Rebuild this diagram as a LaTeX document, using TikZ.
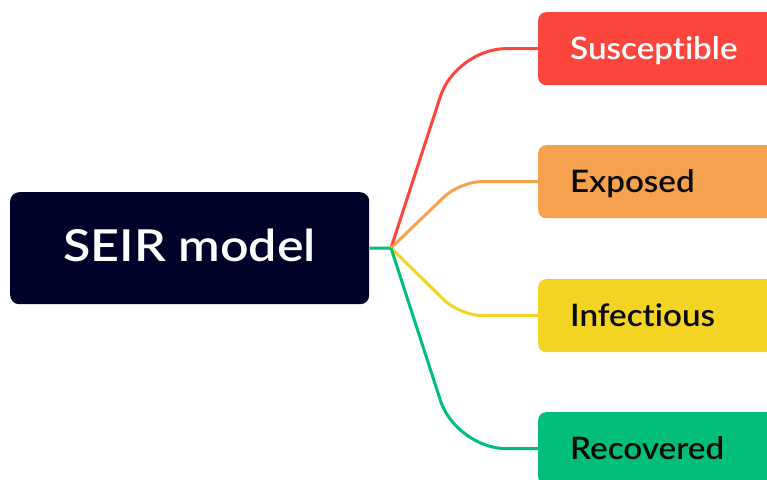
\documentclass[tikz,border=0pt]{standalone}
\usepackage{fontspec}
\setmainfont{Lato}[UprightFont=* Semibold, RawFeature=-liga, FakeStretch=1.07]
\newfontfamily\rootfont{Lato}[UprightFont=* Semibold, RawFeature=-liga, FakeStretch=1.14]
\definecolor{navy}{HTML}{000229}
\definecolor{cred}{HTML}{FB453D}
\definecolor{corange}{HTML}{F6A14E}
\definecolor{cyellow}{HTML}{F3D422}
\definecolor{cgreen}{HTML}{01BF7A}
\definecolor{ink}{HTML}{0A0A0A}
\tikzset{
  conn/.style={line width=3pt, line join=round},
  leaf/.style={rounded corners=8pt, anchor=north west, minimum height=73pt,
    text width=196pt, inner xsep=32pt, align=left, inner ysep=0pt,
    text height=21pt, text depth=0pt,
    font=\fontsize{31pt}{36pt}\selectfont},
}
\begin{document}
\begin{tikzpicture}[x=1pt,y=-1pt]
\useasboundingbox (0,0) rectangle (767,479);
\clip (0,0) rectangle (767,479);
\node[fill=navy, rounded corners=9pt, minimum width=359pt, minimum height=112pt,
  anchor=north west, inner sep=0pt, text=white, text height=27.4pt, text depth=0pt,
  font=\rootfont\fontsize{44pt}{50pt}\selectfont] (root) at (10,192) {SEIR model};
\node[leaf, fill=cred, text=white] (s) at (538,12) {Susceptible};
\node[leaf, fill=corange, text=ink] (e) at (538,145) {Exposed};
\node[leaf, fill=cyellow, text=ink] (i) at (538,279) {Infectious};
\node[leaf, fill=cgreen, text=ink] (r) at (538,412) {Recovered};
\coordinate (j) at (391,248);
\draw[conn, cgreen] (root.east) -- (j);
\draw[conn, cred, rounded corners=50pt] (j) -- (456,48.5) -- (s.west);
\draw[conn, corange, rounded corners=22pt] (j) -- (460,181.5) -- (e.west);
\draw[conn, cyellow, rounded corners=22pt] (j) -- (460,315.5) -- (i.west);
\draw[conn, cgreen, rounded corners=50pt] (j) -- (456,448.5) -- (r.west);
\end{tikzpicture}
\end{document}
